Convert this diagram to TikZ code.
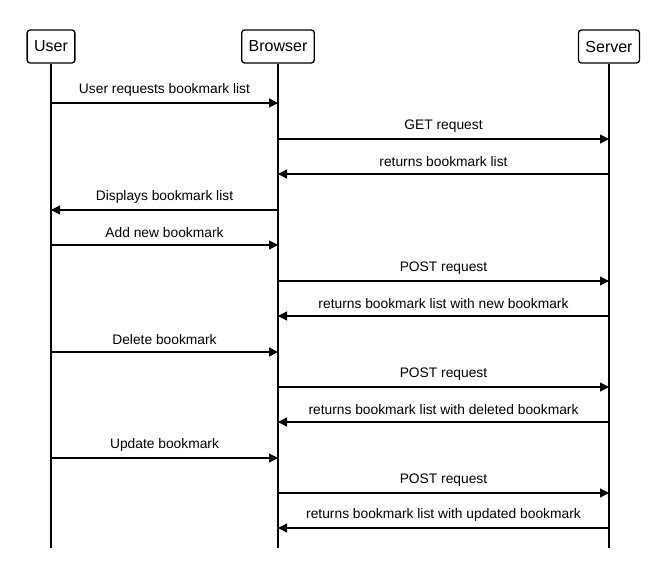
\documentclass[tikz,border=0pt]{standalone}
\usepackage{fontspec}
\setmainfont{Liberation Sans}
\usetikzlibrary{arrows.meta}
\tikzstyle{actor}=[draw=black,line width=1.3pt,rounded corners=3pt,minimum height=33pt,inner xsep=7pt,font=\fontsize{16}{18}\selectfont]
\tikzstyle{lifeline}=[draw=black,line width=1.3pt]
\tikzstyle{msg}=[draw=black,line width=1.3pt,-{Triangle[length=9pt,width=9pt]}]
\tikzstyle{lbl}=[above=3pt,font=\fontsize{13.8}{16}\selectfont]

\begin{document}
\begin{tikzpicture}[x=1pt,y=1pt]
    \useasboundingbox (0,0) rectangle (667,-581);
    % actors
    \node[actor] (user) at (51,-46.5) {User};
    \node[actor] (browser) at (278,-46.5) {Browser};
    \node[actor] (server) at (609,-46.5) {Server};
    % lifelines
    \coordinate (userend) at (51,-548);
    \coordinate (browserend) at (278,-548);
    \coordinate (serverend) at (609,-548);
    \draw[lifeline] (user.south) -- (userend);
    \draw[lifeline] (browser.south) -- (browserend);
    \draw[lifeline] (server.south) -- (serverend);
    % message rows
    \coordinate (r1) at (0,-103);
    \coordinate (r2) at (0,-139);
    \coordinate (r3) at (0,-174);
    \coordinate (r4) at (0,-210);
    \coordinate (r5) at (0,-245);
    \coordinate (r6) at (0,-281);
    \coordinate (r7) at (0,-316);
    \coordinate (r8) at (0,-352);
    \coordinate (r9) at (0,-387);
    \coordinate (r10) at (0,-422);
    \coordinate (r11) at (0,-458);
    \coordinate (r12) at (0,-493);
    \coordinate (r13) at (0,-528);
    % messages
    \draw[msg] (user |- r1) -- (browser |- r1) node[lbl,midway] {User requests bookmark list};
    \draw[msg] (browser |- r2) -- (server |- r2) node[lbl,midway] {GET request};
    \draw[msg] (server |- r3) -- (browser |- r3) node[lbl,midway] {returns bookmark list};
    \draw[msg] (browser |- r4) -- (user |- r4) node[lbl,midway] {Displays bookmark list};
    \draw[msg] (user |- r5) -- (browser |- r5) node[lbl,midway] {Add new bookmark};
    \draw[msg] (browser |- r6) -- (server |- r6) node[lbl,midway] {POST request};
    \draw[msg] (server |- r7) -- (browser |- r7) node[lbl,midway] {returns bookmark list with new bookmark};
    \draw[msg] (user |- r8) -- (browser |- r8) node[lbl,midway] {Delete bookmark};
    \draw[msg] (browser |- r9) -- (server |- r9) node[lbl,midway] {POST request};
    \draw[msg] (server |- r10) -- (browser |- r10) node[lbl,midway] {returns bookmark list with deleted bookmark};
    \draw[msg] (user |- r11) -- (browser |- r11) node[lbl,midway] {Update bookmark};
    \draw[msg] (browser |- r12) -- (server |- r12) node[lbl,midway] {POST request};
    \draw[msg] (server |- r13) -- (browser |- r13) node[lbl,midway] {returns bookmark list with updated bookmark};
\end{tikzpicture}
\end{document}
